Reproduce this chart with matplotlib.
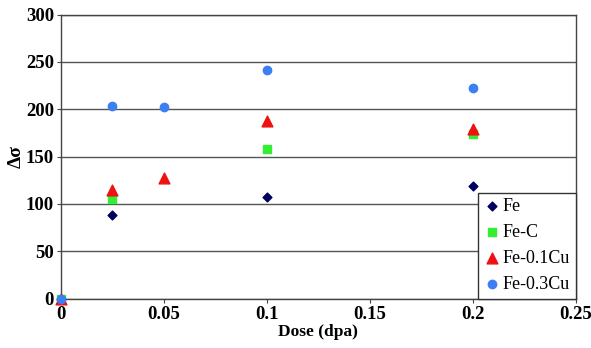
import matplotlib
matplotlib.use("Agg")
import matplotlib.pyplot as plt

dose = [0, 0.025, 0.05, 0.1, 0.2]

fe_x = [0, 0.025, 0.1, 0.2]
fe_y = [0, 88, 107, 119]
fec_x = [0, 0.025, 0.1, 0.2]
fec_y = [0, 105, 158, 174]
cu1_x = [0, 0.025, 0.05, 0.1, 0.2]
cu1_y = [0, 115, 127, 188, 179]
cu3_x = [0, 0.025, 0.05, 0.1, 0.2]
cu3_y = [0, 203, 202, 241, 223]

plt.rcParams['font.family'] = ['Liberation Serif', 'DejaVu Serif']

fig = plt.figure(figsize=(5.91, 3.48), dpi=100)
ax = fig.add_axes([0.103, 0.142, 0.871, 0.816])

ax.set_xlim(0, 0.25)
ax.set_ylim(0, 300)
ax.set_yticks(range(0, 301, 50))
ax.set_xticks([0, 0.05, 0.1, 0.15, 0.2, 0.25])
ax.set_xticklabels(['0', '0.05', '0.1', '0.15', '0.2', '0.25'])
ax.yaxis.grid(True, color='#555555', lw=1.0)
ax.set_axisbelow(True)

for s in ax.spines.values():
    s.set_color('#444444')
    s.set_linewidth(1.0)

ax.scatter(fe_x, fe_y, marker='D', s=20, color='#00005e', label='Fe', zorder=3,
           clip_on=False)
ax.scatter(fec_x, fec_y, marker='s', s=36, color='#33ee33', label='Fe-C', zorder=3,
           clip_on=False)
ax.scatter(cu1_x, cu1_y, marker='^', s=60, color='#ee1111', label='Fe-0.1Cu', zorder=4,
           clip_on=False)
ax.scatter(cu3_x, cu3_y, marker='o', s=36, color='#3b7ff2', label='Fe-0.3Cu', zorder=5,
           clip_on=False)

for lbl in ax.get_xticklabels() + ax.get_yticklabels():
    lbl.set_fontweight('bold')
    lbl.set_fontsize(13.5)
ax.tick_params(axis='both', length=3, color='#444444', pad=2)

ax.set_xlabel('Dose (dpa)', fontsize=12.5, fontweight='bold', labelpad=1)
ax.set_ylabel('Δσ', fontsize=14, fontweight='bold', labelpad=1)

leg = ax.legend(loc='lower right', bbox_to_anchor=(1.0, 0.0), borderaxespad=0,
                fancybox=False, framealpha=1, edgecolor='#333333', fontsize=13,
                handletextpad=0.1, handlelength=1.0, labelspacing=0.5,
                borderpad=0.3)

fig.savefig('out.png', dpi=100)
